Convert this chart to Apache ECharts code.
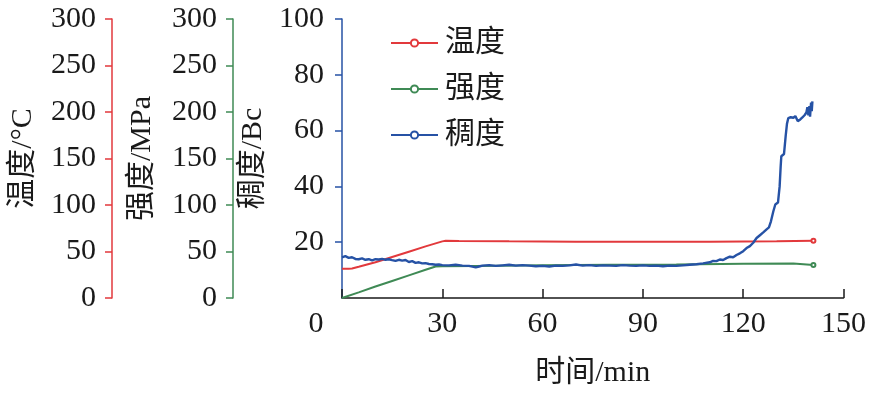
<!DOCTYPE html>
<html><head><meta charset="utf-8">
<script src="https://cdn.jsdelivr.net/npm/echarts@6/dist/echarts.min.js"></script>
<style>html,body{margin:0;padding:0;background:#fff}#c{width:869px;height:393px}</style>
</head><body><div id="c"></div>
<script>
// ---- data ----
const xTicks = [0, 30, 60, 90, 120, 150];
const seriesNames = ['温度', '强度', '稠度'];
// temperature (°C)
const tempTime = [0, 2, 3, 5, 10, 15, 20, 25, 30, 31, 35, 50, 70, 90, 110, 130, 141];
const tempVal  = [31.5, 31.5, 31.8, 33.6, 38.4, 44.1, 49.8, 55.5, 60.9, 61.5, 61.2, 60.9, 60.6, 60.6, 60.6, 60.9, 61.5];
// strength (MPa)
const strTime = [0, 5, 10, 15, 20, 25, 28, 30, 40, 60, 80, 100, 120, 135, 141];
const strVal  = [0, 6, 12.3, 18.3, 24.3, 30.3, 33.9, 34.2, 34.5, 35.1, 35.7, 36, 36.9, 37.2, 35.4];
// consistency (Bc)
const conTime = [0,1,2,3,4,5,6,7,8,9,10,11,12,13,14,15,16,17,18,19,20,21,22,23,24,25,26,27,28,29,30,32,34,36,38,40,41,42,44,46,48,50,52,54,56,58,60,62,64,66,68,70,72,74,76,78,80,82,84,86,88,90,92,94,96,98,100,102,104,106,108,110,111,112,113,114,115,116,117,118,119,120,121,122,123,124,125,126,127,127.7,128.3,129,129.6,130.4,130.9,131.2,131.4,132.2,132.7,133.1,133.5,134.2,135,135.6,136.3,137,137.7,138.4,138.9,139.2,139.5,139.8,140,140.3,140.5,140.7];
const conVal  = [14.6,15.0,14.4,14.6,14.0,13.9,14.2,13.7,13.9,13.5,13.9,13.8,14.0,13.7,13.9,13.6,13.3,13.7,13.4,13.6,12.9,13.2,12.6,12.8,12.4,12.5,12.2,12.1,11.9,12.0,11.8,11.7,11.9,11.6,11.5,11.0,11.3,11.6,11.8,11.5,11.7,11.9,11.6,11.8,11.6,11.4,11.5,11.3,11.6,11.5,11.7,12.0,11.6,11.8,11.5,11.7,11.6,11.5,11.8,11.6,11.5,11.7,11.5,11.6,11.4,11.6,11.5,11.7,11.9,12.1,12.4,12.8,13.3,13.2,13.8,13.6,14.3,14.8,14.6,15.4,16.0,16.8,17.9,18.6,19.8,21.5,22.5,23.5,24.6,25.3,27.5,31.0,33.5,34.2,40,47,50.8,51.6,58,62.5,64.5,64.8,64.6,65.2,63.4,63.9,64.7,65.6,66.5,68.4,65.5,68.8,65.0,70.0,67.0,70.5];

const FONT = '"Liberation Serif", "Noto Sans CJK SC", serif';
const RED = '#e2393c', GREEN = '#3f8a55', BLUE = '#2652a5';
const FS = 30;

function build(ts, vs, markLast) {
  const last = ts.length - 1;
  return ts.map((t, i) => (markLast && i === last) ? [t, vs[i]] : { value: [t, vs[i]], symbol: 'none' });
}

const chart = echarts.init(document.getElementById('c'), null, { renderer: 'canvas' });
const yCommon = {
  type: 'value', position: 'left',
  splitLine: { show: false },
  nameLocation: 'middle',
  nameTextStyle: { fontFamily: FONT, fontSize: FS, color: '#1a1a1a' },
  axisLabel: { fontFamily: FONT, fontSize: FS, color: '#1a1a1a', margin: 16 }
};
chart.setOption({
  animation: false,
  backgroundColor: '#fff',
  grid: { left: 336, top: 19, right: 25, bottom: 91, containLabel: false },
  legend: {
    orient: 'vertical', left: 385, top: 23, itemGap: 16, itemWidth: 47, itemHeight: 9,
    data: seriesNames,
    textStyle: { fontFamily: FONT, fontSize: FS, color: '#1a1a1a', padding: [0, 0, 0, 2] }
  },
  xAxis: {
    type: 'value', min: 0, max: 150, interval: 30,
    axisLine: { lineStyle: { color: '#1a1a1a', width: 1.5 } },
    axisTick: { inside: true, length: 9, lineStyle: { color: '#1a1a1a', width: 1.5 } },
    splitLine: { show: false },
    axisLabel: {
      fontFamily: FONT, fontSize: FS, color: '#1a1a1a', margin: 11,
      formatter: v => v === 0 ? '{z|0}' : String(v),
      rich: { z: { fontFamily: FONT, fontSize: FS, color: '#1a1a1a', padding: [0, 52, 0, 0] } }
    },
    name: '时间/min', nameLocation: 'middle', nameGap: 60,
    nameTextStyle: { fontFamily: FONT, fontSize: FS, color: '#1a1a1a' }
  },
  yAxis: [
    Object.assign({}, yCommon, {
      min: 0, max: 100, interval: 20, offset: 0, name: '稠度/Bc', nameGap: 64,
      axisLine: { show: true, lineStyle: { color: BLUE, width: 1.5 } },
      axisTick: { show: true, length: 7, lineStyle: { color: BLUE, width: 1.5 } },
      axisLabel: Object.assign({}, yCommon.axisLabel, { margin: 18, showMinLabel: false })
    }),
    Object.assign({}, yCommon, {
      min: 0, max: 300, interval: 50, offset: 109, name: '强度/MPa', nameGap: 76,
      axisLine: { show: true, lineStyle: { color: GREEN, width: 1.5 } },
      axisTick: { show: true, length: 7, lineStyle: { color: GREEN, width: 1.5 } }
    }),
    Object.assign({}, yCommon, {
      min: 0, max: 300, interval: 50, offset: 230, name: '温度/°C', nameGap: 74,
      axisLine: { show: true, lineStyle: { color: RED, width: 1.5 } },
      axisTick: { show: true, length: 7, lineStyle: { color: RED, width: 1.5 } }
    })
  ],
  series: [
    { name: '温度', type: 'line', yAxisIndex: 2, data: build(tempTime, tempVal, true),
      symbol: 'emptyCircle', symbolSize: 4, showSymbol: true, showAllSymbol: true,
      lineStyle: { color: RED, width: 2 }, itemStyle: { color: RED, borderWidth: 1.2 }, z: 3 },
    { name: '强度', type: 'line', yAxisIndex: 1, data: build(strTime, strVal, true),
      symbol: 'emptyCircle', symbolSize: 4, showSymbol: true, showAllSymbol: true,
      lineStyle: { color: GREEN, width: 2 }, itemStyle: { color: GREEN, borderWidth: 1.2 }, z: 2 },
    { name: '稠度', type: 'line', yAxisIndex: 0, data: build(conTime, conVal, false),
      symbol: 'emptyCircle', symbolSize: 4, showSymbol: true, showAllSymbol: true,
      lineStyle: { color: BLUE, width: 2.4 }, itemStyle: { color: BLUE, borderWidth: 1.2 }, z: 4 }
  ]
});
</script></body></html>
